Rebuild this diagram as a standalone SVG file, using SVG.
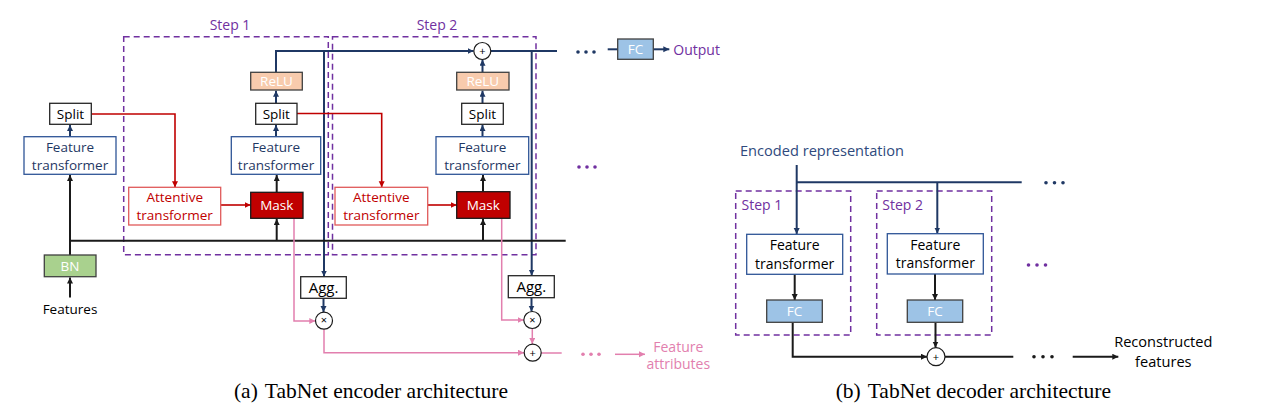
<svg xmlns="http://www.w3.org/2000/svg" width="1263" height="412" viewBox="0 0 1263 412">
<style>
  text { font-family: "Open Sans", Lato, "Liberation Sans", sans-serif; font-size: 13.5px; text-anchor: middle; }
  .cap { font-family: "Liberation Serif", "Times New Roman", serif; font-size: 21.5px; fill: #000; }
  .navy { fill: none; stroke: #1F3864; stroke-width: 2; }
  .blk { fill: none; stroke: #1a1a1a; stroke-width: 2; }
  .red { fill: none; stroke: #C00000; stroke-width: 1.6; }
  .pink { fill: none; stroke: #E27FAE; stroke-width: 1.5; }
  .step { fill: none; stroke: #7030A0; stroke-width: 1.5; stroke-dasharray: 6 4; }
  .steplbl { fill: #7030A0; font-size: 14px; }
  .ft { fill: #fff; stroke: #2F5597; stroke-width: 1.3; }
  .ftt { fill: #1F3864; }
  .plain { fill: #fff; stroke: #262626; stroke-width: 1.3; }
  .relu { fill: #F8CBAD; stroke: #404040; stroke-width: 1.3; }
  .mask { fill: #C00000; stroke: #1a1a1a; stroke-width: 1.3; }
  .att { fill: #fff; stroke: #E05A5A; stroke-width: 1.3; }
  .attt { fill: #C00000; }
  .bn { fill: #A9D18E; stroke: #404040; stroke-width: 1.3; }
  .fc { fill: #9DC3E6; stroke: #404040; stroke-width: 1.3; }
  .wt { fill: #fff; }
  .agg { font-size: 15px; }
  .big { font-size: 14.6px; }
  .op { fill: #fff; stroke: #1a1a1a; stroke-width: 1.2; }
  .opt { font-size: 11px; fill: #000; }
</style>
<defs>
  <marker id="aN" markerUnits="userSpaceOnUse" markerWidth="7" markerHeight="7" refX="6" refY="3" orient="auto"><path d="M0,0 L6,3 L0,6 z" fill="#1F3864"/></marker>
  <marker id="aK" markerUnits="userSpaceOnUse" markerWidth="7" markerHeight="7" refX="6" refY="3" orient="auto"><path d="M0,0 L6,3 L0,6 z" fill="#1a1a1a"/></marker>
  <marker id="aR" markerUnits="userSpaceOnUse" markerWidth="7" markerHeight="7" refX="6" refY="3" orient="auto"><path d="M0,0 L6,3 L0,6 z" fill="#C00000"/></marker>
  <marker id="aP" markerUnits="userSpaceOnUse" markerWidth="7" markerHeight="7" refX="6" refY="3" orient="auto"><path d="M0,0 L6,3 L0,6 z" fill="#E27FAE"/></marker>
</defs>

<!-- step frames -->
<g id="enc-step1">
  <rect class="step" x="123.7" y="36.7" width="204.6" height="218"/>
  <text class="steplbl" x="230" y="30">Step 1</text>
</g>
<g id="enc-step2">
  <rect class="step" x="332.5" y="36.7" width="203.5" height="218"/>
  <text class="steplbl" x="437" y="30">Step 2</text>
</g>
<g id="dec-step1">
  <rect class="step" x="735.7" y="191" width="115" height="144"/>
  <text class="steplbl" x="741.5" y="210" style="text-anchor:start">Step 1</text>
</g>
<g id="dec-step2">
  <rect class="step" x="876.7" y="191" width="115" height="144"/>
  <text class="steplbl" x="882.3" y="210" style="text-anchor:start">Step 2</text>
</g>

<!-- connectors -->
<g id="connectors">
  <!-- navy -->
  <path class="navy" d="M70,136.7 V125" marker-end="url(#aN)"/>
  <path class="navy" d="M276,136.7 V125" marker-end="url(#aN)"/>
  <path class="navy" d="M276,103.3 V90.7" marker-end="url(#aN)"/>
  <path class="navy" d="M276,72.3 V51 H473.5" marker-end="url(#aN)"/>
  <path class="navy" d="M491,51 H557"/>
  <path class="navy" d="M324,51 V276.5" marker-end="url(#aN)"/>
  <path class="navy" d="M531.7,51 V275.5" marker-end="url(#aN)"/>
  <path class="navy" d="M482.5,136.7 V125" marker-end="url(#aN)"/>
  <path class="navy" d="M482.5,103.3 V90.7" marker-end="url(#aN)"/>
  <path class="navy" d="M482.5,72.3 V59.8" marker-end="url(#aN)"/>
  <path class="navy" d="M323.5,298.3 V312" marker-end="url(#aN)"/>
  <path class="navy" d="M531.5,297.7 V311.5" marker-end="url(#aN)"/>
  <path class="navy" d="M607.7,49.3 H617.7"/>
  <path class="navy" d="M653.3,49.3 H669.3" marker-end="url(#aN)"/>
  <path class="navy" d="M796.7,165 V234" marker-end="url(#aN)"/>
  <path class="navy" d="M796.7,182.3 H1021.7"/>
  <path class="navy" d="M937.3,182.3 V233.5" marker-end="url(#aN)"/>
  <!-- black -->
  <path class="blk" d="M70,297.5 V277.5" marker-end="url(#aK)"/>
  <path class="blk" d="M70,255 V175" marker-end="url(#aK)"/>
  <path class="blk" d="M70,240.7 H565.7"/>
  <path class="blk" d="M276.7,240.7 V219" marker-end="url(#aK)"/>
  <path class="blk" d="M276.7,192.3 V175" marker-end="url(#aK)"/>
  <path class="blk" d="M483,240.7 V219" marker-end="url(#aK)"/>
  <path class="blk" d="M483,191.7 V175" marker-end="url(#aK)"/>
  <path class="blk" d="M794.7,274.3 V300" marker-end="url(#aK)"/>
  <path class="blk" d="M935,274 V300" marker-end="url(#aK)"/>
  <path class="blk" d="M792.7,322.3 V356.7 H927" marker-end="url(#aK)"/>
  <path class="blk" d="M935.5,322.3 V347.5" marker-end="url(#aK)"/>
  <path class="blk" d="M945,356.7 H1013.3"/>
  <path class="blk" d="M1072.7,356.7 H1118.3" marker-end="url(#aK)"/>
  <!-- red -->
  <path class="red" d="M91.3,114 H175 V187.3" marker-end="url(#aR)"/>
  <path class="red" d="M220.7,205 H250.7" marker-end="url(#aR)"/>
  <path class="red" d="M297,113.5 H381.7 V187.3" marker-end="url(#aR)"/>
  <path class="red" d="M427.7,205 H456.7" marker-end="url(#aR)"/>
  <!-- pink -->
  <path class="pink" d="M294,218.3 V321 H315.3" marker-end="url(#aP)"/>
  <path class="pink" d="M501.7,218.3 V320 H523.6" marker-end="url(#aP)"/>
  <path class="pink" d="M324,329.2 V352.7 H524" marker-end="url(#aP)"/>
  <path class="pink" d="M532.3,328.5 V344" marker-end="url(#aP)"/>
  <path class="pink" d="M541.2,353 H561.7"/>
  <path class="pink" d="M615,354.3 H645" marker-end="url(#aP)"/>
  <!-- dots -->
  <g fill="#1F3864"><circle cx="578" cy="52" r="1.8"/><circle cx="586" cy="52" r="1.8"/><circle cx="594" cy="52" r="1.8"/></g>
  <g fill="#7030A0"><circle cx="579" cy="167" r="1.8"/><circle cx="587" cy="167" r="1.8"/><circle cx="595" cy="167" r="1.8"/></g>
  <g fill="#E27FAE"><circle cx="583" cy="354.3" r="1.8"/><circle cx="591" cy="354.3" r="1.8"/><circle cx="599" cy="354.3" r="1.8"/></g>
  <g fill="#1F3864"><circle cx="1046" cy="182.7" r="1.8"/><circle cx="1054.5" cy="182.7" r="1.8"/><circle cx="1063" cy="182.7" r="1.8"/></g>
  <g fill="#7030A0"><circle cx="1028.5" cy="265" r="1.8"/><circle cx="1037" cy="265" r="1.8"/><circle cx="1045.5" cy="265" r="1.8"/></g>
  <g fill="#1a1a1a"><circle cx="1034" cy="356.7" r="1.8"/><circle cx="1043" cy="356.7" r="1.8"/><circle cx="1052" cy="356.7" r="1.8"/></g>
</g>

<!-- encoder nodes -->
<g id="features"><text x="70" y="314">Features</text></g>
<g id="bn"><rect class="bn" x="44.3" y="255" width="51.7" height="21.7"/><text class="wt" x="70" y="270.5">BN</text></g>
<g id="ft0"><rect class="ft" x="24" y="136.7" width="92" height="37.6"/><text class="ftt" x="70" y="152">Feature</text><text class="ftt" x="70" y="169.5">transformer</text></g>
<g id="split0"><rect class="plain" x="49.7" y="103.3" width="41.6" height="21"/><text x="70.5" y="119">Split</text></g>

<g id="att1"><rect class="att" x="128.7" y="187.3" width="92" height="37.7"/><text class="attt" x="174.7" y="201.8">Attentive</text><text class="attt" x="174.7" y="220">transformer</text></g>
<g id="mask1"><rect class="mask" x="250.7" y="192.3" width="52.3" height="26"/><text class="wt" x="276.8" y="210">Mask</text></g>
<g id="ft1"><rect class="ft" x="231.3" y="136.7" width="89.4" height="37.6"/><text class="ftt" x="276" y="152">Feature</text><text class="ftt" x="276" y="169.5">transformer</text></g>
<g id="split1"><rect class="plain" x="255.7" y="103.3" width="41.3" height="21"/><text x="276.3" y="119">Split</text></g>
<g id="relu1"><rect class="relu" x="250.7" y="72.3" width="51.6" height="17.7"/><text class="wt" x="276.5" y="86">ReLU</text></g>
<g id="agg1"><rect class="plain" x="300.7" y="276.7" width="45.6" height="21.6"/><text class="agg" x="323.5" y="292.8">Agg.</text></g>
<g id="mul1"><circle class="op" cx="324" cy="320.7" r="8.5"/><text class="opt" x="324" y="324.3">×</text></g>

<g id="att2"><rect class="att" x="335" y="187.3" width="92.7" height="37.7"/><text class="attt" x="381.3" y="201.8">Attentive</text><text class="attt" x="381.3" y="220">transformer</text></g>
<g id="mask2"><rect class="mask" x="456.7" y="191.7" width="53.3" height="26.6"/><text class="wt" x="483.3" y="210">Mask</text></g>
<g id="ft2"><rect class="ft" x="436" y="136.7" width="92.7" height="37.6"/><text class="ftt" x="482.3" y="152">Feature</text><text class="ftt" x="482.3" y="169.5">transformer</text></g>
<g id="split2"><rect class="plain" x="461.7" y="103.3" width="41.6" height="21"/><text x="482.5" y="119">Split</text></g>
<g id="relu2"><rect class="relu" x="456.7" y="72.3" width="52.3" height="17.7"/><text class="wt" x="482.8" y="86">ReLU</text></g>
<g id="sum-top"><circle class="op" cx="482.3" cy="51" r="8.5"/><text class="opt" x="482.3" y="55">+</text></g>
<g id="agg2"><rect class="plain" x="508.3" y="275.7" width="46" height="22"/><text class="agg" x="531.3" y="292">Agg.</text></g>
<g id="mul2"><circle class="op" cx="532.3" cy="320" r="8.5"/><text class="opt" x="532.3" y="323.6">×</text></g>
<g id="sum-attr"><circle class="op" cx="532.7" cy="352.7" r="8.5"/><text class="opt" x="532.7" y="356.7">+</text></g>

<g id="fc-out"><rect class="fc" x="617.7" y="39" width="35.6" height="20.3"/><text class="wt" x="635.5" y="54">FC</text></g>
<g id="output"><text x="673.3" y="54.5" style="text-anchor:start;fill:#7030A0;font-size:14px">Output</text></g>
<g id="feat-attr"><text x="678.3" y="351.5" style="fill:#E27FAE;font-size:14px">Feature</text><text x="678.3" y="369" style="fill:#E27FAE;font-size:14px">attributes</text></g>

<!-- decoder nodes -->
<g id="encoded"><text class="big" x="822" y="155.5" style="fill:#2F4A7D">Encoded representation</text></g>
<g id="dft1"><rect class="ft" x="746.7" y="234.3" width="96" height="40"/><text x="794.7" y="250" style="font-size:14px">Feature</text><text x="794.7" y="268.5" style="font-size:14px">transformer</text></g>
<g id="dfc1"><rect class="fc" x="766.7" y="300" width="55.6" height="22.3"/><text class="wt" x="794.5" y="316">FC</text></g>
<g id="dft2"><rect class="ft" x="887.3" y="233.7" width="96" height="40.3"/><text x="935.3" y="249.5" style="font-size:14px">Feature</text><text x="935.3" y="268" style="font-size:14px">transformer</text></g>
<g id="dfc2"><rect class="fc" x="907.3" y="300" width="55.4" height="22.3"/><text class="wt" x="935" y="316">FC</text></g>
<g id="dsum"><circle class="op" cx="936" cy="356.7" r="9"/><text class="opt" x="936" y="360.7">+</text></g>
<g id="recon"><text class="big" x="1163.3" y="347">Reconstructed</text><text class="big" x="1163.3" y="367">features</text></g>

<!-- captions -->
<text class="cap" x="371" y="398">(a)<tspan dx="7">TabNet encoder architecture</tspan></text>
<text class="cap" x="973.3" y="398">(b)<tspan dx="7">TabNet decoder architecture</tspan></text>
</svg>
